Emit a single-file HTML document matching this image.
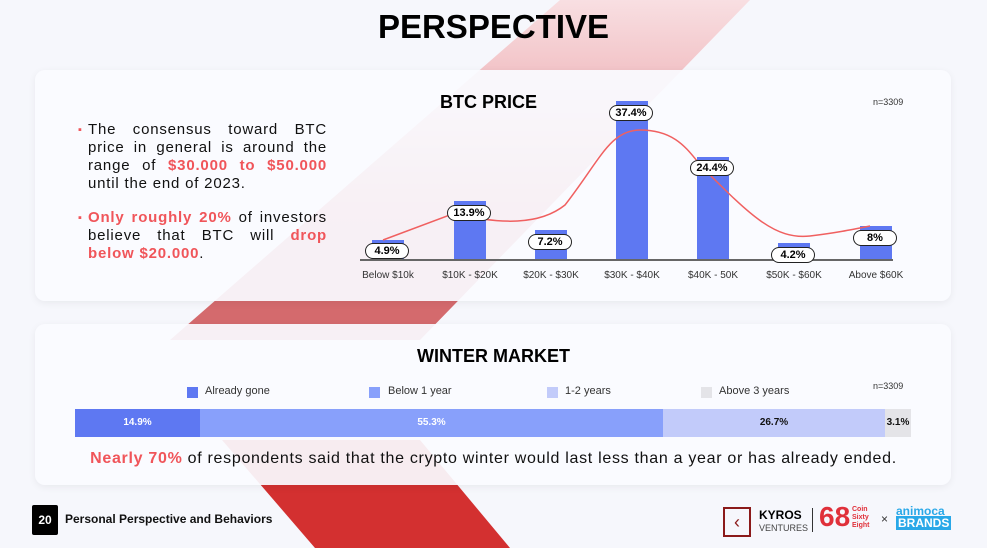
<!DOCTYPE html>
<html><head><style>
body{margin:0;width:987px;height:548px;overflow:hidden;background:#f6f7fc;font-family:"Liberation Sans",sans-serif;position:relative}
.card{position:absolute;background:rgba(250,251,255,0.93);border-radius:10px;box-shadow:0 2px 8px rgba(0,0,0,0.06)}
.abs{position:absolute}
.lbl{position:absolute;font-size:10px;color:#333;text-align:center;width:80px}
.pill{position:absolute;border:1.5px solid #222;border-radius:8px;background:#fff;font-weight:bold;font-size:11px;text-align:center;height:14px;line-height:14px;width:42px}
.bar{position:absolute;background:#5e78f2;width:32px}
.bt{position:absolute;left:88px;width:239px;font-size:15px;line-height:18px;color:#111;text-align:justify;letter-spacing:0.8px}
.bt:before{content:"▪";color:#f0555a;position:absolute;left:-10px;font-size:11px}
</style></head><body>
<svg class="abs" style="left:0;top:0" width="987" height="548">
<defs><linearGradient id="g" x1="0" y1="0" x2="0" y2="1"><stop offset="0" stop-color="#f8dfe2"/><stop offset="0.3" stop-color="#f0b8bc"/><stop offset="0.6" stop-color="#d86a6e"/><stop offset="1" stop-color="#d36a6d"/></linearGradient></defs>
<polygon points="560,0 750,0 420,340 170,340" fill="url(#g)"/>
<polygon points="222,440 420,440 510,548 315,548" fill="#d33030"/>
</svg>
<div class="abs" style="left:0;width:987px;top:8px;text-align:center;font-size:33px;font-weight:900;color:#000">PERSPECTIVE</div>
<div class="card" style="left:35px;top:70px;width:916px;height:231px"></div>
<div class="card" style="left:35px;top:324px;width:916px;height:161px"></div>
<div class="bt" style="top:121px">The consensus toward BTC price in general is around the range of <b style="color:#f0555a">$30.000 to $50.000</b> until the end of 2023.</div>
<div class="bt" style="top:209px"><b style="color:#f0555a">Only roughly 20%</b> of investors believe that BTC will <b style="color:#f0555a">drop below $20.000</b>.</div>
<div class="abs" style="left:440px;top:92px;font-size:18px;font-weight:900">BTC PRICE</div>
<div class="abs" style="left:873px;top:97px;font-size:9px;color:#333">n=3309</div>
<div class="bar" style="left:372px;top:240px;height:20px"></div>
<div class="bar" style="left:454px;top:201px;height:59px"></div>
<div class="bar" style="left:535px;top:230px;height:30px"></div>
<div class="bar" style="left:616px;top:101px;height:159px"></div>
<div class="bar" style="left:697px;top:157px;height:103px"></div>
<div class="bar" style="left:778px;top:243px;height:17px"></div>
<div class="bar" style="left:860px;top:226px;height:34px"></div>
<div class="abs" style="left:360px;top:259px;width:533px;height:2px;background:#666"></div>
<svg class="abs" style="left:0;top:0" width="987" height="548"><path d="M383,240 L455,213 C500,225 540,225 565,205 C600,160 610,130 640,130 C680,130 690,155 705,170 C750,215 775,240 810,236 C835,233 850,230 870,226" fill="none" stroke="#f06060" stroke-width="1.5"/></svg>
<div class="pill" style="left:365px;top:243px">4.9%</div>
<div class="pill" style="left:447px;top:205px">13.9%</div>
<div class="pill" style="left:528px;top:234px">7.2%</div>
<div class="pill" style="left:609px;top:105px">37.4%</div>
<div class="pill" style="left:690px;top:160px">24.4%</div>
<div class="pill" style="left:771px;top:247px">4.2%</div>
<div class="pill" style="left:853px;top:230px">8%</div>
<div class="lbl" style="left:348px;top:270px">Below $10k</div>
<div class="lbl" style="left:430px;top:270px">$10K - $20K</div>
<div class="lbl" style="left:511px;top:270px">$20K - $30K</div>
<div class="lbl" style="left:592px;top:270px">$30K - $40K</div>
<div class="lbl" style="left:673px;top:270px">$40K - 50K</div>
<div class="lbl" style="left:754px;top:270px">$50K - $60K</div>
<div class="lbl" style="left:836px;top:270px">Above $60K</div>
<div class="abs" style="left:0;width:987px;top:346px;text-align:center;font-size:18px;font-weight:900">WINTER MARKET</div>
<div class="abs" style="left:873px;top:381px;font-size:9px;color:#333">n=3309</div>
<div class="abs" style="left:187px;top:387px;width:11px;height:11px;background:#5e78f2"></div><div class="abs" style="left:205px;top:385px;font-size:11px;color:#333">Already gone</div>
<div class="abs" style="left:369px;top:387px;width:11px;height:11px;background:#88a0fb"></div><div class="abs" style="left:388px;top:385px;font-size:11px;color:#333">Below 1 year</div>
<div class="abs" style="left:547px;top:387px;width:11px;height:11px;background:#c2cbfa"></div><div class="abs" style="left:565px;top:385px;font-size:11px;color:#333">1-2 years</div>
<div class="abs" style="left:701px;top:387px;width:11px;height:11px;background:#e4e4e8"></div><div class="abs" style="left:719px;top:385px;font-size:11px;color:#333">Above 3 years</div>
<div class="abs" style="left:75px;top:409px;height:28px;width:125px;background:#5e78f2;color:#fff;font-size:10px;font-weight:bold;text-align:center;line-height:28px">14.9%</div>
<div class="abs" style="left:200px;top:409px;height:28px;width:463px;background:#88a0fb;color:#fff;font-size:10px;font-weight:bold;text-align:center;line-height:28px">55.3%</div>
<div class="abs" style="left:663px;top:409px;height:28px;width:222px;background:#c2cbfa;color:#111;font-size:10px;font-weight:bold;text-align:center;line-height:28px">26.7%</div>
<div class="abs" style="left:885px;top:409px;height:28px;width:26px;background:#e4e4e8;color:#111;font-size:10px;font-weight:bold;text-align:center;line-height:28px">3.1%</div>
<div class="abs" style="left:0;width:987px;top:450px;text-align:center;font-size:16px;letter-spacing:0.7px;color:#111;white-space:nowrap"><b style="color:#f0555a">Nearly 70%</b> of respondents said that the crypto winter would last less than a year or has already ended.</div>
<div class="abs" style="left:32px;top:505px;width:26px;height:30px;background:#000;color:#fff;font-size:12px;font-weight:bold;text-align:center;line-height:30px;border-radius:2px">20</div>
<div class="abs" style="left:65px;top:512px;font-size:12px;font-weight:bold;color:#111">Personal Perspective and Behaviors</div>
<div class="abs" style="left:723px;top:507px;width:24px;height:26px;border:2px solid #8b1a1a;color:#8b1a1a;font-size:18px;text-align:center;line-height:26px">‹</div>
<div class="abs" style="left:759px;top:509px;font-size:12px;font-weight:bold;line-height:12px">KYROS<br><span style="font-size:9px;font-weight:normal;color:#444">VENTURES</span></div>
<div class="abs" style="left:812px;top:508px;width:1px;height:24px;background:#333"></div>
<div class="abs" style="left:819px;top:501px;font-size:28px;font-weight:900;color:#e0303a;line-height:32px">68</div>
<div class="abs" style="left:852px;top:506px;font-size:7px;font-weight:bold;color:#e0303a;line-height:8px">Coin<br>Sixty<br>Eight</div>
<div class="abs" style="left:881px;top:512px;font-size:12px;color:#333">×</div>
<div class="abs" style="left:896px;top:505px;font-size:12px;font-weight:900;color:#29a8e8;line-height:12px">animoca<br><span style="background:#29a8e8;color:#fff;padding:0 2px">BRANDS</span></div>
</body></html>
